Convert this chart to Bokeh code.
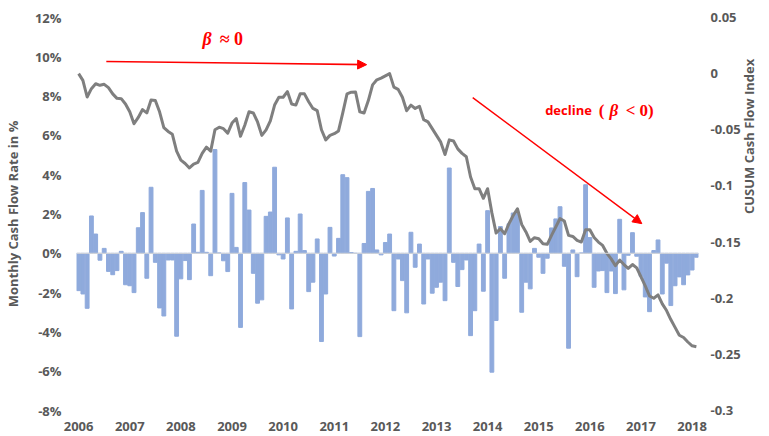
import math
import numpy as np
from bokeh.plotting import figure
from bokeh.models import (Range1d, LinearAxis, FixedTicker, Arrow, NormalHead, Label,
                          Span, PrintfTickFormatter, CustomJSTickFormatter)
from bokeh.embed import file_html
from bokeh.resources import INLINE

# ---------------- data ----------------
years = ["2006", "2007", "2008", "2009", "2010", "2011", "2012",
         "2013", "2014", "2015", "2016", "2017", "2018"]

# monthly cash flow rate in %, Jan 2006 .. Feb 2018
flow_pct = [
    -1.9, -2.07, -2.8, 1.9, 0.98, -0.35, 0.25, -0.92, -1.09, -0.88, 0.1, -1.6,
    -1.65, -2.0, 1.3, 2.07, -1.27, 3.36, -0.46, -2.78, -3.19, -0.34, -0.34, -4.22,
    -1.3, -0.37, -1.34, 1.49, 0.05, 3.2, 0.05, -1.14, 5.28, 0.02, -0.38, -0.93,
    3.05, 0.3, -3.77, 3.6, 2.2, -1.02, -2.54, -2.37, 1.88, 2.1, 4.38, -0.08,
    -0.29, 1.8, -2.83, 0.1, 2.0, 0.14, -1.95, -1.47, 0.73, -4.49, -2.07, 1.32,
    -0.14, 0.76, 4.0, 3.85, 0.04, 0.0, -4.24, 0.5, 3.15, 3.3, 0.17, -0.08,
    0.55, 0.98, -2.92, -0.29, -1.39, -3.03, 1.07, -0.71, 0.47, -2.58, -0.29, -2.03,
    -1.73, -1.47, -2.41, 4.34, -0.46, -1.69, -0.83, -0.34, -4.19, -2.92, 0.47, -1.93,
    2.17, -6.05, -3.42, 1.36, -1.27, 1.5, 2.05, 2.1, -3.0, -1.47, -1.81, 0.25,
    -0.2, -1.02, -0.25, 1.29, 1.75, 2.37, -0.66, -4.83, 0.17, -1.19, 0.02, 3.49,
    0.8, -1.73, -0.9, -0.88, -2.0, -0.9, -2.05, 1.73, -1.86, -0.1, 1.05, -0.15,
    -1.17, -2.22, -2.97, 0.14, 0.68, -2.07, -0.5, -2.66, -1.65, -1.2, -1.6, -1.1,
    -0.85, -0.2,
]

# CUSUM cash flow index (right axis)
cusum = [
    0.0, -0.006, -0.0208, -0.0134, -0.009, -0.0104, -0.0095, -0.0125, -0.018, -0.022, -0.0223, -0.027,
    -0.034, -0.0446, -0.039, -0.032, -0.035, -0.0235, -0.024, -0.034, -0.048, -0.0515, -0.054, -0.069,
    -0.077, -0.080, -0.084, -0.0805, -0.079, -0.071, -0.0655, -0.069, -0.050, -0.0477, -0.049, -0.053,
    -0.044, -0.040, -0.0558, -0.046, -0.034, -0.035, -0.043, -0.055, -0.050, -0.042, -0.028, -0.021,
    -0.021, -0.016, -0.027, -0.028, -0.018, -0.018, -0.025, -0.031, -0.033, -0.050, -0.059, -0.055,
    -0.0535, -0.051, -0.035, -0.018, -0.0165, -0.0163, -0.034, -0.035, -0.024, -0.010, -0.0055, -0.004,
    -0.002, 0.0, -0.012, -0.014, -0.021, -0.033, -0.028, -0.031, -0.029, -0.041, -0.043, -0.049,
    -0.055, -0.061, -0.072, -0.059, -0.060, -0.067, -0.071, -0.074, -0.092, -0.1025, -0.1025, -0.111,
    -0.1025, -0.124, -0.142, -0.138, -0.1426, -0.1337, -0.1263, -0.1203, -0.1343, -0.141, -0.1494, -0.1461,
    -0.147, -0.1515, -0.152, -0.144, -0.1366, -0.129, -0.1312, -0.144, -0.145, -0.1485, -0.150, -0.139,
    -0.139, -0.146, -0.150, -0.153, -0.160, -0.165, -0.171, -0.166, -0.170, -0.1735, -0.170, -0.173,
    -0.181, -0.189, -0.198, -0.200, -0.197, -0.205, -0.211, -0.219, -0.226, -0.233, -0.235, -0.239,
    -0.2424, -0.2432,
]

left_ticks = [-8, -6, -4, -2, 0, 2, 4, 6, 8, 10, 12]
right_ticks = [-0.3, -0.25, -0.2, -0.15, -0.1, -0.05, 0.0, 0.05]

# ---------------- styling ----------------
BAR = "#8FAADC"
LINE = "#7F7F7F"
TXT = "#595959"
RED = "#FF0000"
FONT = "Open Sans"
SERIF = "Liberation Serif"

n = len(flow_pct)
x = np.arange(n)

p = figure(width=769, height=436, output_backend="svg", toolbar_location=None,
           x_range=Range1d(-0.5, n - 0.5), y_range=Range1d(-8, 12),
           min_border_left=76, min_border_right=67, min_border_top=17, min_border_bottom=26)
p.extra_y_ranges = {"cusum": Range1d(-0.3, 0.05)}
p.xgrid.visible = False
p.ygrid.visible = False
p.outline_line_color = None

p.vbar(x=x, top=flow_pct, width=0.9, color=BAR)
p.add_layout(Span(location=0, dimension="width", line_color="#D9D9D9", line_width=1))
p.line(x, cusum, y_range_name="cusum", line_color=LINE, line_width=3, line_join="round")

# x axis
xa = p.xaxis[0]
xa.ticker = FixedTicker(ticks=[12 * k for k in range(len(years))])
xa.major_label_overrides = {12 * k: y for k, y in enumerate(years)}
xa.axis_line_color = None
xa.major_tick_line_color = None
xa.minor_tick_line_color = None
xa.major_tick_out = 0
xa.major_tick_in = 0
xa.major_label_standoff = 11
xa.major_label_text_font = FONT
xa.major_label_text_font_style = "bold"
xa.major_label_text_font_size = "13px"
xa.major_label_text_color = TXT

# left axis
ya = p.yaxis[0]
ya.ticker = FixedTicker(ticks=left_ticks)
ya.formatter = PrintfTickFormatter(format="%d%%")
ya.axis_line_color = None
ya.major_tick_line_color = None
ya.minor_tick_line_color = None
ya.major_tick_out = 0
ya.major_tick_in = 0
ya.major_label_standoff = 15
ya.major_label_text_font = FONT
ya.major_label_text_font_style = "bold"
ya.major_label_text_font_size = "13px"
ya.major_label_text_color = TXT
ya.axis_label = "Monthly Cash Flow Rate in %"
ya.axis_label_text_font = FONT
ya.axis_label_text_font_style = "bold"
ya.axis_label_text_font_size = "13px"
ya.axis_label_text_color = TXT
ya.axis_label_standoff = 10

# right axis
ra = LinearAxis(y_range_name="cusum", ticker=FixedTicker(ticks=right_ticks),
                formatter=CustomJSTickFormatter(code="return tick == 0 ? '0' : String(Math.round(tick*100)/100);"))
ra.axis_line_color = None
ra.major_tick_line_color = None
ra.minor_tick_line_color = None
ra.major_tick_out = 0
ra.major_tick_in = 0
ra.major_label_standoff = 12
ra.major_label_text_font = FONT
ra.major_label_text_font_style = "bold"
ra.major_label_text_font_size = "13px"
ra.major_label_text_color = TXT
ra.axis_label = "CUSUM Cash Flow Index"
ra.axis_label_text_font = FONT
ra.axis_label_text_font_style = "bold"
ra.axis_label_text_font_size = "13px"
ra.axis_label_text_color = TXT
ra.axis_label_standoff = 5
try:
    ra.axis_label_orientation = math.pi / 2
except Exception:
    pass
p.add_layout(ra, "right")

# annotations (data coordinates)
p.add_layout(Arrow(end=NormalHead(size=9, fill_color=RED, line_color=RED),
                   x_start=6.5, y_start=9.76, x_end=67.6, y_end=9.60,
                   line_color=RED, line_width=1.6))
p.add_layout(Arrow(end=NormalHead(size=9, fill_color=RED, line_color=RED),
                   x_start=92.5, y_start=7.92, x_end=132.2, y_end=1.51,
                   line_color=RED, line_width=1.4))

def lab(xv, yv, txt, font, style, size):
    p.add_layout(Label(x=xv, y=yv, text=txt, text_font=font, text_font_style=style,
                       text_font_size=size, text_color=RED, text_baseline="middle",
                       text_align="left"))

lab(29.1, 10.9, "β", SERIF, "bold italic", "18px")
lab(33.1, 10.9, "≈ 0", SERIF, "bold", "18px")
lab(109.5, 7.28, "decline", FONT, "bold", "13px")
lab(122.1, 7.28, "(", SERIF, "bold", "17px")
lab(124.6, 7.28, "β", SERIF, "bold italic", "17px")
lab(128.4, 7.28, "< 0)", SERIF, "bold", "17px")

open("out.html", "w").write(file_html(p, INLINE))
